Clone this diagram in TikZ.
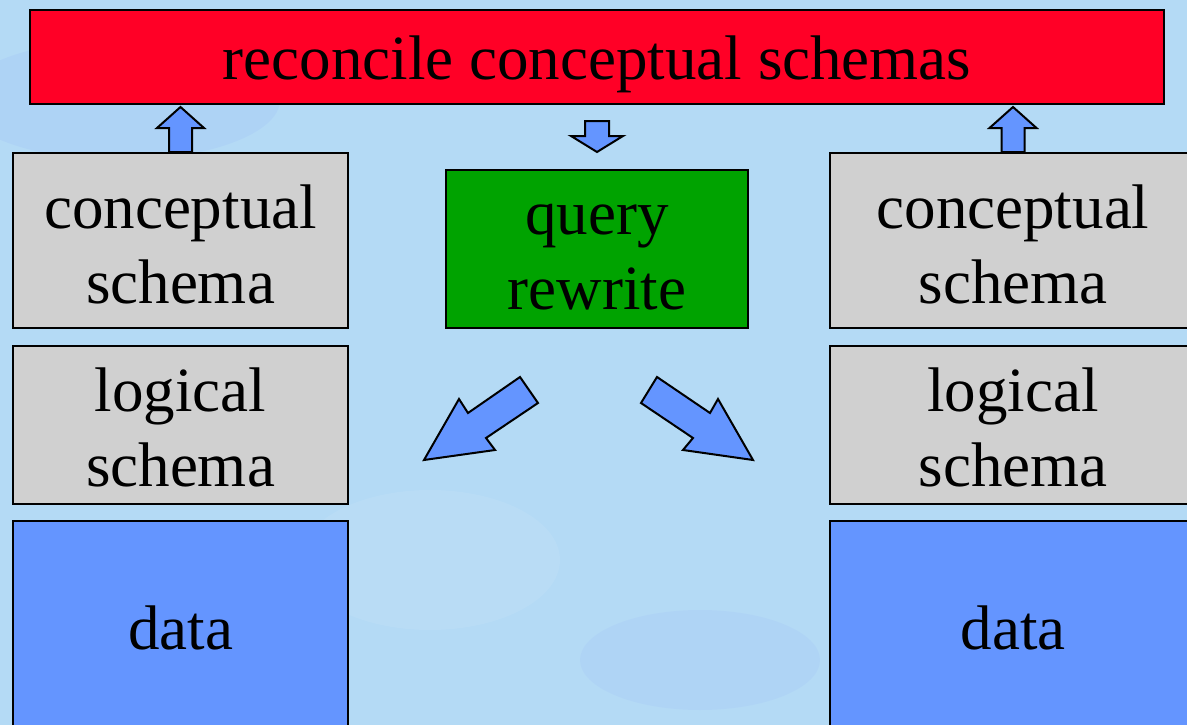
\documentclass[tikz,border=0pt]{standalone}
\usepackage{fontspec}
\setmainfont{Liberation Serif}
\usetikzlibrary{calc}
\definecolor{bgblue}{HTML}{B4DAF5}
\definecolor{redbox}{HTML}{FF0026}
\definecolor{greybox}{HTML}{D0D0D0}
\definecolor{greenbox}{HTML}{00A300}
\definecolor{datablue}{HTML}{6495FF}
\tikzset{
  box/.style={draw=black, line width=2pt, rectangle, inner sep=0pt},
  txt/.style={align=center, inner sep=0pt, font=\fontsize{63}{75}\selectfont},
  blockarrow/.style={draw=black, line width=2pt, fill=datablue, line join=miter},
}
\begin{document}
\begin{tikzpicture}[x=1pt,y=-1pt]
\clip (0,0) rectangle (1187,725);
\fill[bgblue] (0,0) rectangle (1187,725);
% faint background texture
\fill[white,opacity=0.07] (430,560) ellipse (130 and 70);
\fill[blue!40!bgblue,opacity=0.07] (120,100) ellipse (160 and 60);
\fill[blue!40!bgblue,opacity=0.06] (700,660) ellipse (120 and 50);

\node[box, fill=redbox, minimum width=1134pt, minimum height=94pt,
  label={[txt,yshift=-7pt]center:reconcile conceptual schemas}] (rec) at (597,57) {};

\node[box, fill=greybox, minimum width=335pt, minimum height=175pt,
  label={[txt,yshift=-4pt]center:{conceptual\\schema}}] (csL) at (180.5,240.5) {};
\node[box, fill=greybox, minimum width=335pt, minimum height=158pt,
  label={[txt,yshift=-2pt]center:{logical\\schema}}] (lsL) at (180.5,425) {};
\node[box, fill=datablue, minimum width=335pt, minimum height=214pt,
  label={[txt]center:data}] (dL) at (180.5,628) {};

\node[box, fill=greybox, minimum width=366pt, minimum height=175pt,
  label={[txt,yshift=-4pt]center:{conceptual\\schema}}] (csR) at (1013,240.5) {};
\node[box, fill=greybox, minimum width=366pt, minimum height=158pt,
  label={[txt,yshift=-2pt]center:{logical\\schema}}] (lsR) at (1013,425) {};
\node[box, fill=datablue, minimum width=366pt, minimum height=214pt,
  label={[txt]center:data}] (dR) at (1013,628) {};

\node[box, fill=greenbox, minimum width=302pt, minimum height=158pt,
  label={[txt,yshift=-8pt]center:{query\\rewrite}}] (qr) at (597,249) {};

% up arrows
\foreach \n/\xx in {csL/180.5, csR/1013}{
  \draw[blockarrow] ($(\n.north -| \xx,0)+(-11.5,0)$) -- ++(0,-24) -- ++(-12,0)
    -- ($(rec.south -| \xx,0)+(0,2)$) -- ($(\n.north -| \xx,0)+(23.5,-24)$) -- ++(-12,0) -- ++(0,24) -- cycle;
}
% down arrow
\draw[blockarrow] ($(rec.south -| 597,0)+(-12,16)$) -- ++(24,0) -- ++(0,15) -- ++(14,0)
  -- ($(qr.north -| 597,0)+(0,-17)$) -- ($(rec.south -| 597,0)+(-26,31)$) -- ++(14,0) -- cycle;

% diagonal arrows
\draw[blockarrow] (520,377) -- (538,403) -- (486,438) -- (495,450) -- (424,460) -- (459,399) -- (468,413) -- cycle;
\draw[blockarrow] (657,377) -- (710,413) -- (718,399) -- (753,460) -- (683,450) -- (693,438) -- (641,403) -- cycle;
\end{tikzpicture}
\end{document}
